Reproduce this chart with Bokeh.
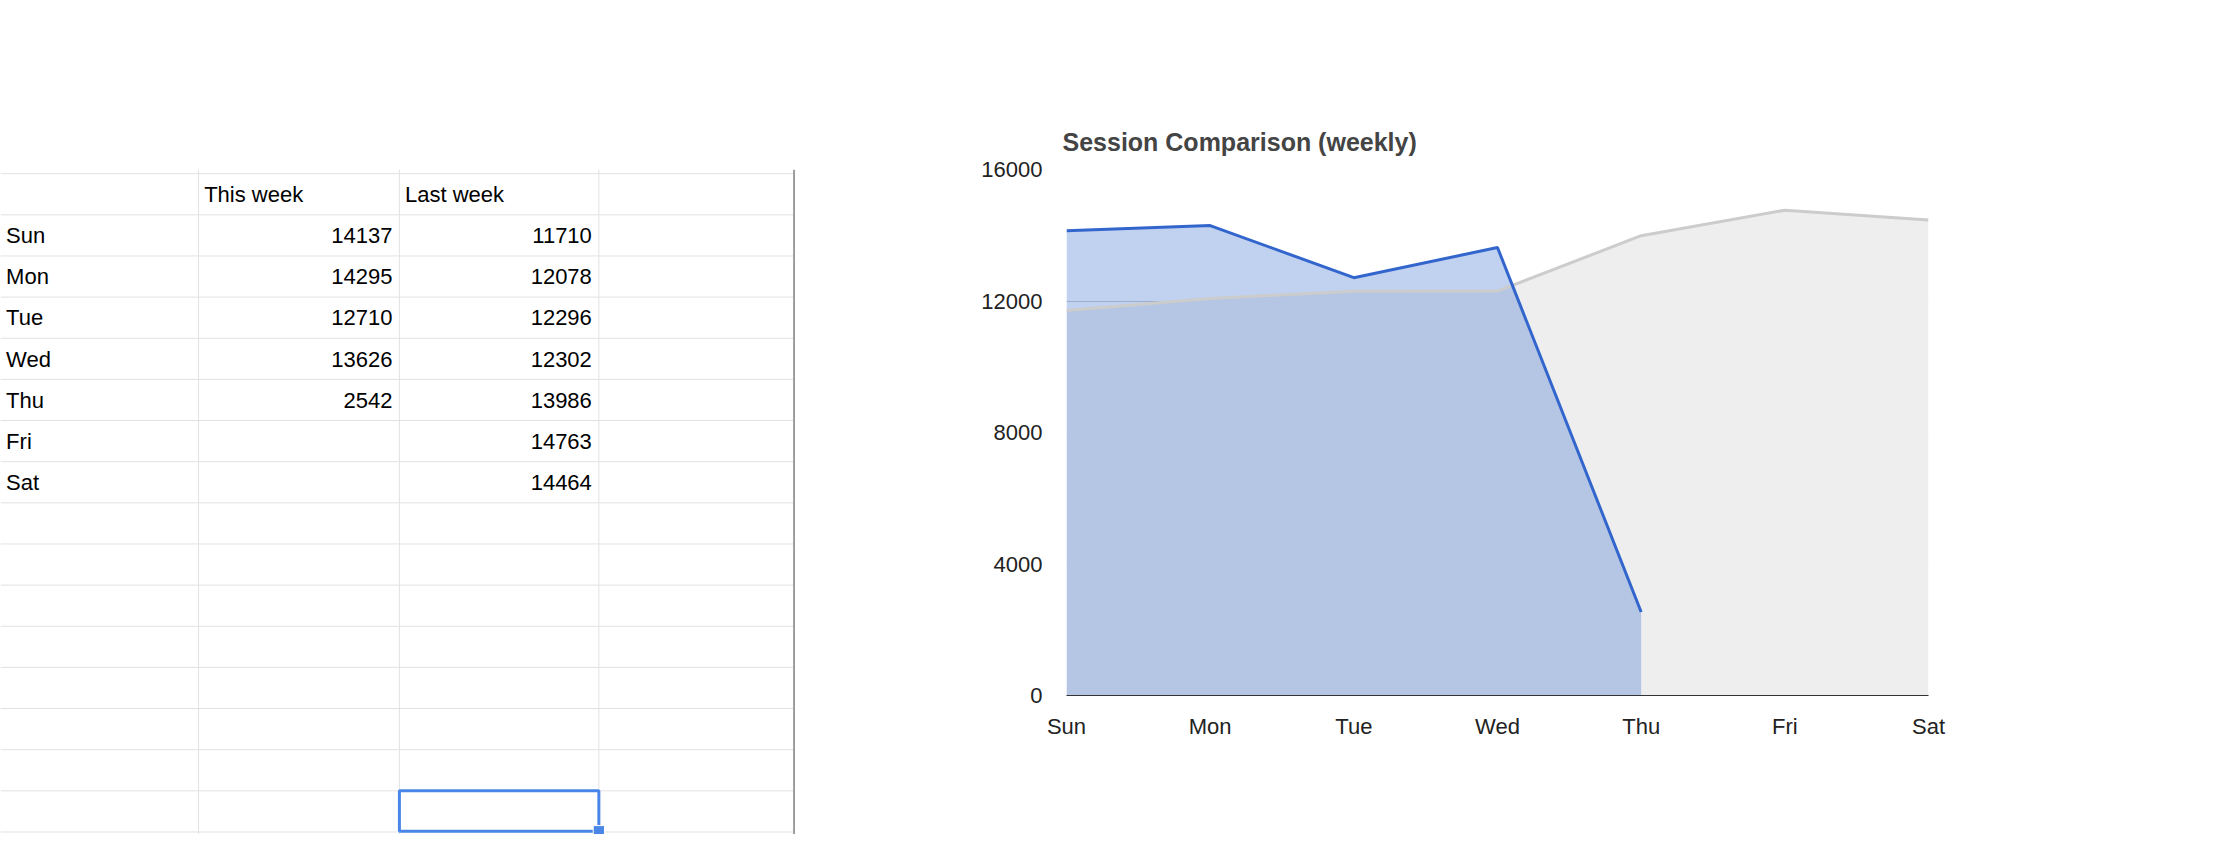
from bokeh.layouts import row
from bokeh.models import ColumnDataSource, Range1d, Legend, LegendItem, FixedTicker
from bokeh.plotting import figure
from bokeh.embed import file_html
from bokeh.resources import INLINE
from bokeh.core.properties import value

days = ["Sun", "Mon", "Tue", "Wed", "Thu", "Fri", "Sat"]
this_week = [14137, 14295, 12710, 13626, 2542]
last_week = [11710, 12078, 12296, 12302, 13986, 14763, 14464]
series_names = ["This week", "Last week"]
y_ticks = [0, 4000, 8000, 12000, 16000]

FONT = "Liberation Sans"
SX, SY = 1.405, 1.39

# ---- spreadsheet on the left (drawn in source-pixel units)
sheet = figure(frame_width=int(566 * SX), frame_height=834, output_backend="svg",
               toolbar_location=None, x_range=Range1d(0, 566), y_range=Range1d(600, 0),
               x_axis_type=None, y_axis_type=None, min_border=0)
sheet.grid.visible = False
sheet.outline_line_color = None

col_x = [0, 141, 284, 426]
row_y = [3 + 29.6 * i for i in range(21)]
sheet.segment(x0=col_x[1:], y0=0, x1=col_x[1:], y1=600, color="#e2e2e2", line_width=1)
sheet.segment(x0=0, y0=row_y, x1=566, y1=row_y, color="#e2e2e2", line_width=1)
sheet.segment(x0=[565], y0=[0], x1=[565], y1=[600], color="#9a9a9a", line_width=2)

hdr = ColumnDataSource(dict(x=[145, 288], y=[row_y[0] + 15] * 2, t=series_names))
sheet.text("x", "y", "t", source=hdr, text_font=value(FONT), text_font_size="22px",
           text_baseline="middle")
lab = ColumnDataSource(dict(x=[4] * 7, y=[row_y[i + 1] + 15 for i in range(7)], t=days))
sheet.text("x", "y", "t", source=lab, text_font=value(FONT), text_font_size="22px",
           text_baseline="middle")
tw = ColumnDataSource(dict(x=[279] * len(this_week),
                           y=[row_y[i + 1] + 15 for i in range(len(this_week))],
                           t=[str(v) for v in this_week]))
sheet.text("x", "y", "t", source=tw, text_font=value(FONT), text_font_size="22px",
           text_baseline="middle", text_align="right")
lw = ColumnDataSource(dict(x=[421] * len(last_week),
                           y=[row_y[i + 1] + 15 for i in range(len(last_week))],
                           t=[str(v) for v in last_week]))
sheet.text("x", "y", "t", source=lw, text_font=value(FONT), text_font_size="22px",
           text_baseline="middle", text_align="right")
# selected cell
sheet.quad(left=[284], right=[426], top=[447], bottom=[476], fill_color=None,
           line_color="#4a86e8", line_width=3)
sheet.quad(left=[422], right=[430], top=[472], bottom=[480], fill_color="#4a86e8",
           line_color="white", line_width=1)

# ---- chart on the right
xs = list(range(len(days)))
p = figure(frame_width=int((1374 - 760) * SX), frame_height=int((501 - 122) * SY),
           output_backend="svg", toolbar_location=None,
           x_range=Range1d(0, 6), y_range=Range1d(0, 16000),
           min_border_left=int((760 - 567) * SX), min_border_right=int((1568 - 1374) * SX),
           min_border_top=int(122 * SY), min_border_bottom=834 - int(501 * SY))
p.outline_line_color = None
p.title.text = "Session Comparison (weekly)"
p.title.text_font = FONT
p.title.text_font_size = "25px"
p.title.offset = -4
p.title.standoff = 28

lw_area = p.varea(x=xs, y1=0, y2=last_week, fill_color="#eeeeee")
tw_area = p.varea(x=xs[:len(this_week)], y1=0, y2=this_week, fill_color="#3366cc", fill_alpha=0.3)
lw_line = p.line(xs, last_week, color="#cccccc", line_width=3)
tw_line = p.line(xs[:len(this_week)], this_week, color="#3366cc", line_width=3)

p.xgrid.visible = False
p.ygrid.grid_line_color = "#cccccc"
p.ygrid.ticker = FixedTicker(ticks=y_ticks)
p.yaxis.ticker = FixedTicker(ticks=y_ticks)
p.yaxis.axis_line_color = None
p.yaxis.major_tick_line_color = None
p.yaxis.minor_tick_line_color = None
p.yaxis.major_label_standoff = 18
p.xaxis.ticker = FixedTicker(ticks=xs)
p.xaxis.major_label_overrides = {i: d for i, d in enumerate(days)}
p.xaxis.axis_line_color = "#333333"
p.xaxis.major_tick_line_color = None
p.xaxis.minor_tick_line_color = None
p.xaxis.major_label_standoff = 12
for ax in (p.xaxis, p.yaxis):
    ax.major_label_text_font = FONT
    ax.major_label_text_font_size = "22px"
    ax.major_label_text_color = "#222222"

legend = Legend(items=[LegendItem(label=series_names[0], renderers=[tw_line]),
                       LegendItem(label=series_names[1], renderers=[lw_line])],
                orientation="horizontal", location="center", border_line_color=None,
                label_text_font=FONT, label_text_font_size="22px", glyph_width=50,
                spacing=40, margin=40, padding=0)
p.add_layout(legend, "below")

layout = row(sheet, p, spacing=0)
open("out.html", "w").write(file_html(layout, INLINE))
